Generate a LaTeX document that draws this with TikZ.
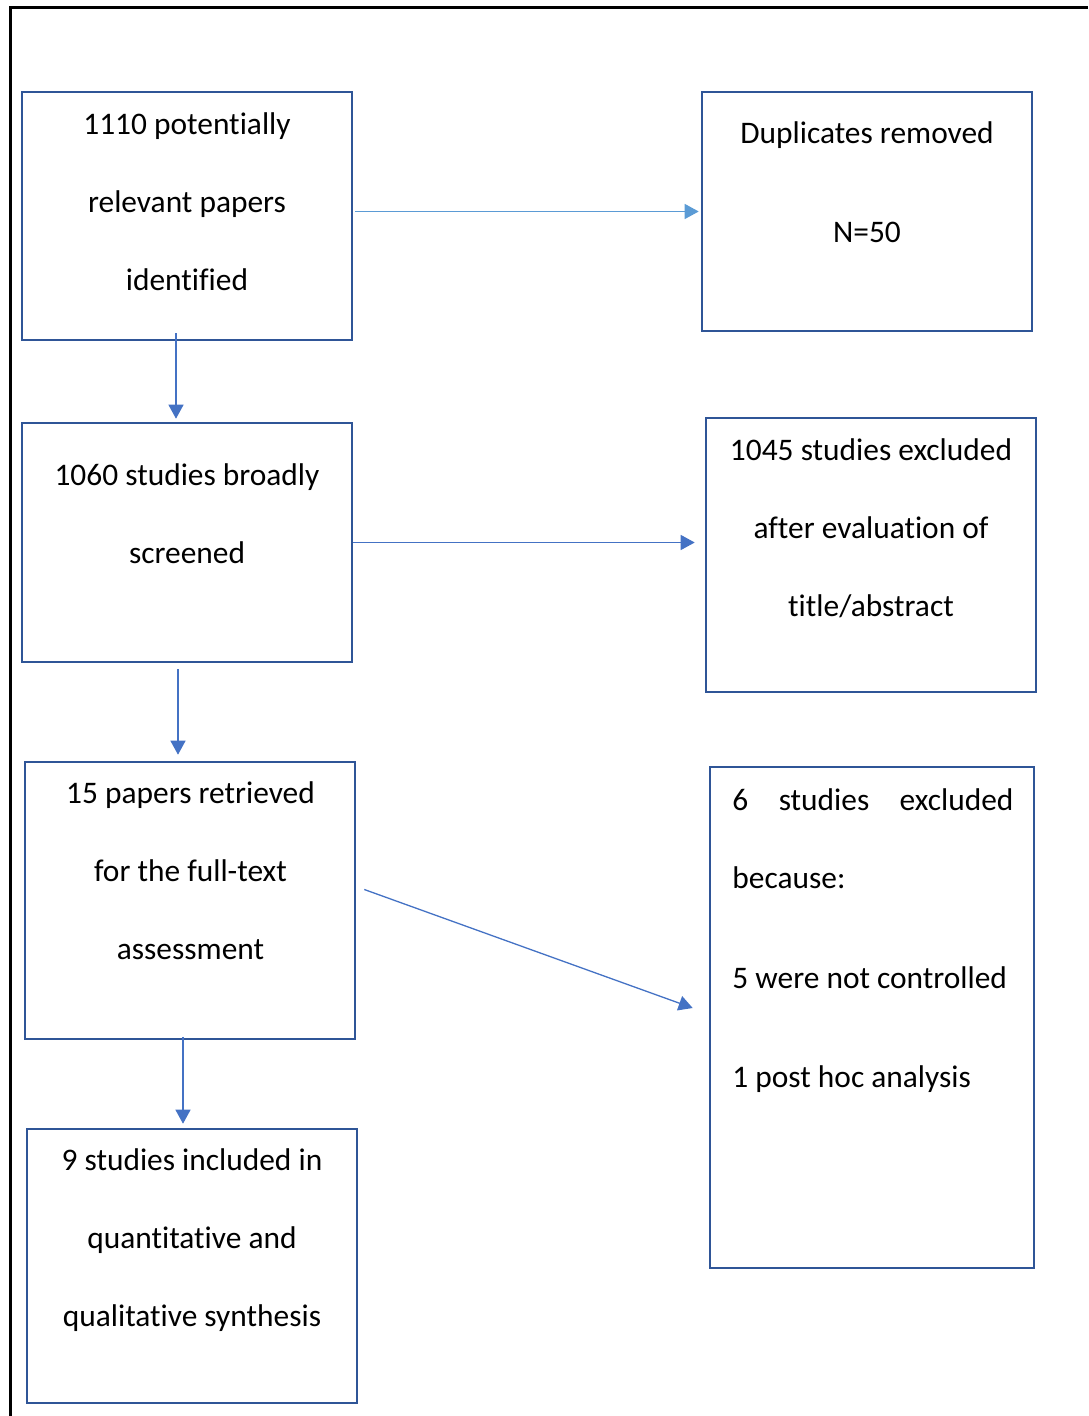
\documentclass[tikz,border=0pt]{standalone}
\usepackage{fontspec}
\setmainfont[Ligatures={NoCommon,NoContextual},RawFeature={-calt}]{Carlito}
\usetikzlibrary{arrows.meta}
\definecolor{boxblue}{HTML}{2F5597}
\definecolor{arrblue}{HTML}{4472C4}
\definecolor{lightblue}{HTML}{5B9BD5}
\tikzset{
  box/.style={draw=boxblue,line width=1.3pt,rectangle,minimum width=165pt},
  txt/.style={align=center,anchor=north,inner sep=0pt,font=\fontsize{15.7}{39}\selectfont},
  arr/.style={arrblue,line width=0.65pt,-{Triangle[length=7pt,width=7.5pt]}}
}
\begin{document}
\begin{tikzpicture}[x=0.5pt,y=-0.5pt]
\useasboundingbox (0,0) rectangle (1088,1416);
\draw [line width=1.5pt] (10,1416) -- (10,8) -- (1088,8);

% left column
\node [box,minimum height=124pt] (ident) at(187,216){};
\node [txt] (ident-t) at(187,112){1110 potentially\\relevant papers\\identified};
\node [box,minimum height=119.5pt] (screen) at(187,542.5){};
\node [txt] (screen-t) at(187,463){1060 studies broadly\\screened};
\node [box,minimum height=138.5pt] (full) at(190,900.5){};
\node [txt] (full-t) at(190.5,781){15 papers retrieved\\for the full-text\\assessment};
\node [box,minimum height=137pt] (incl) at(192,1266){};
\node [txt] (incl-t) at(192,1148){9 studies included in\\quantitative and\\qualitative synthesis};

% right column
\node [box,minimum height=119.5pt] (dupl) at(867,211.5){};
\node [txt] (dupl-t) at(867,121){Duplicates removed\\[10.5pt]N=50};
\node [box,minimum height=137pt] (exclA) at(871,555){};
\node [txt] (exclA-t) at(871,438){1045 studies excluded\\after evaluation of\\title/abstract};
\node [box,minimum width=162pt,minimum height=250.5pt] (exclB) at(872,1017.5){};
\node [txt,align=left,anchor=north west] (exclB-t) at(732,788){\makebox[140.5pt][s]{6 studies excluded}\\because:\\[11pt]5 were not controlled\\[10.5pt]1 post hoc analysis};

% arrows
\draw [arr,lightblue,shorten >=1pt] ([shift={(2,0)}]ident.east |- dupl.west) -- (dupl.west);
\draw [arr,shorten >=1.5pt] ([shift={(-11,-8)}]ident.south) -- ([shift={(-11,0)}]screen.north);
\draw [arr,shorten >=5pt] (screen.east) -- (screen.east -| exclA.west);
\draw [arr,shorten >=3pt] ([shift={(-9,6)}]screen.south) -- ([shift={(-12,0)}]full.north);
\draw [arr] ([shift={(8,-11)}]full.east) -- ([shift={(-16,-9.5)}]exclB.west);
\draw [arr,shorten >=2pt] ([shift={(-7,-3.5)}]full.south) -- ([shift={(-9,0)}]incl.north);
\end{tikzpicture}
\end{document}
